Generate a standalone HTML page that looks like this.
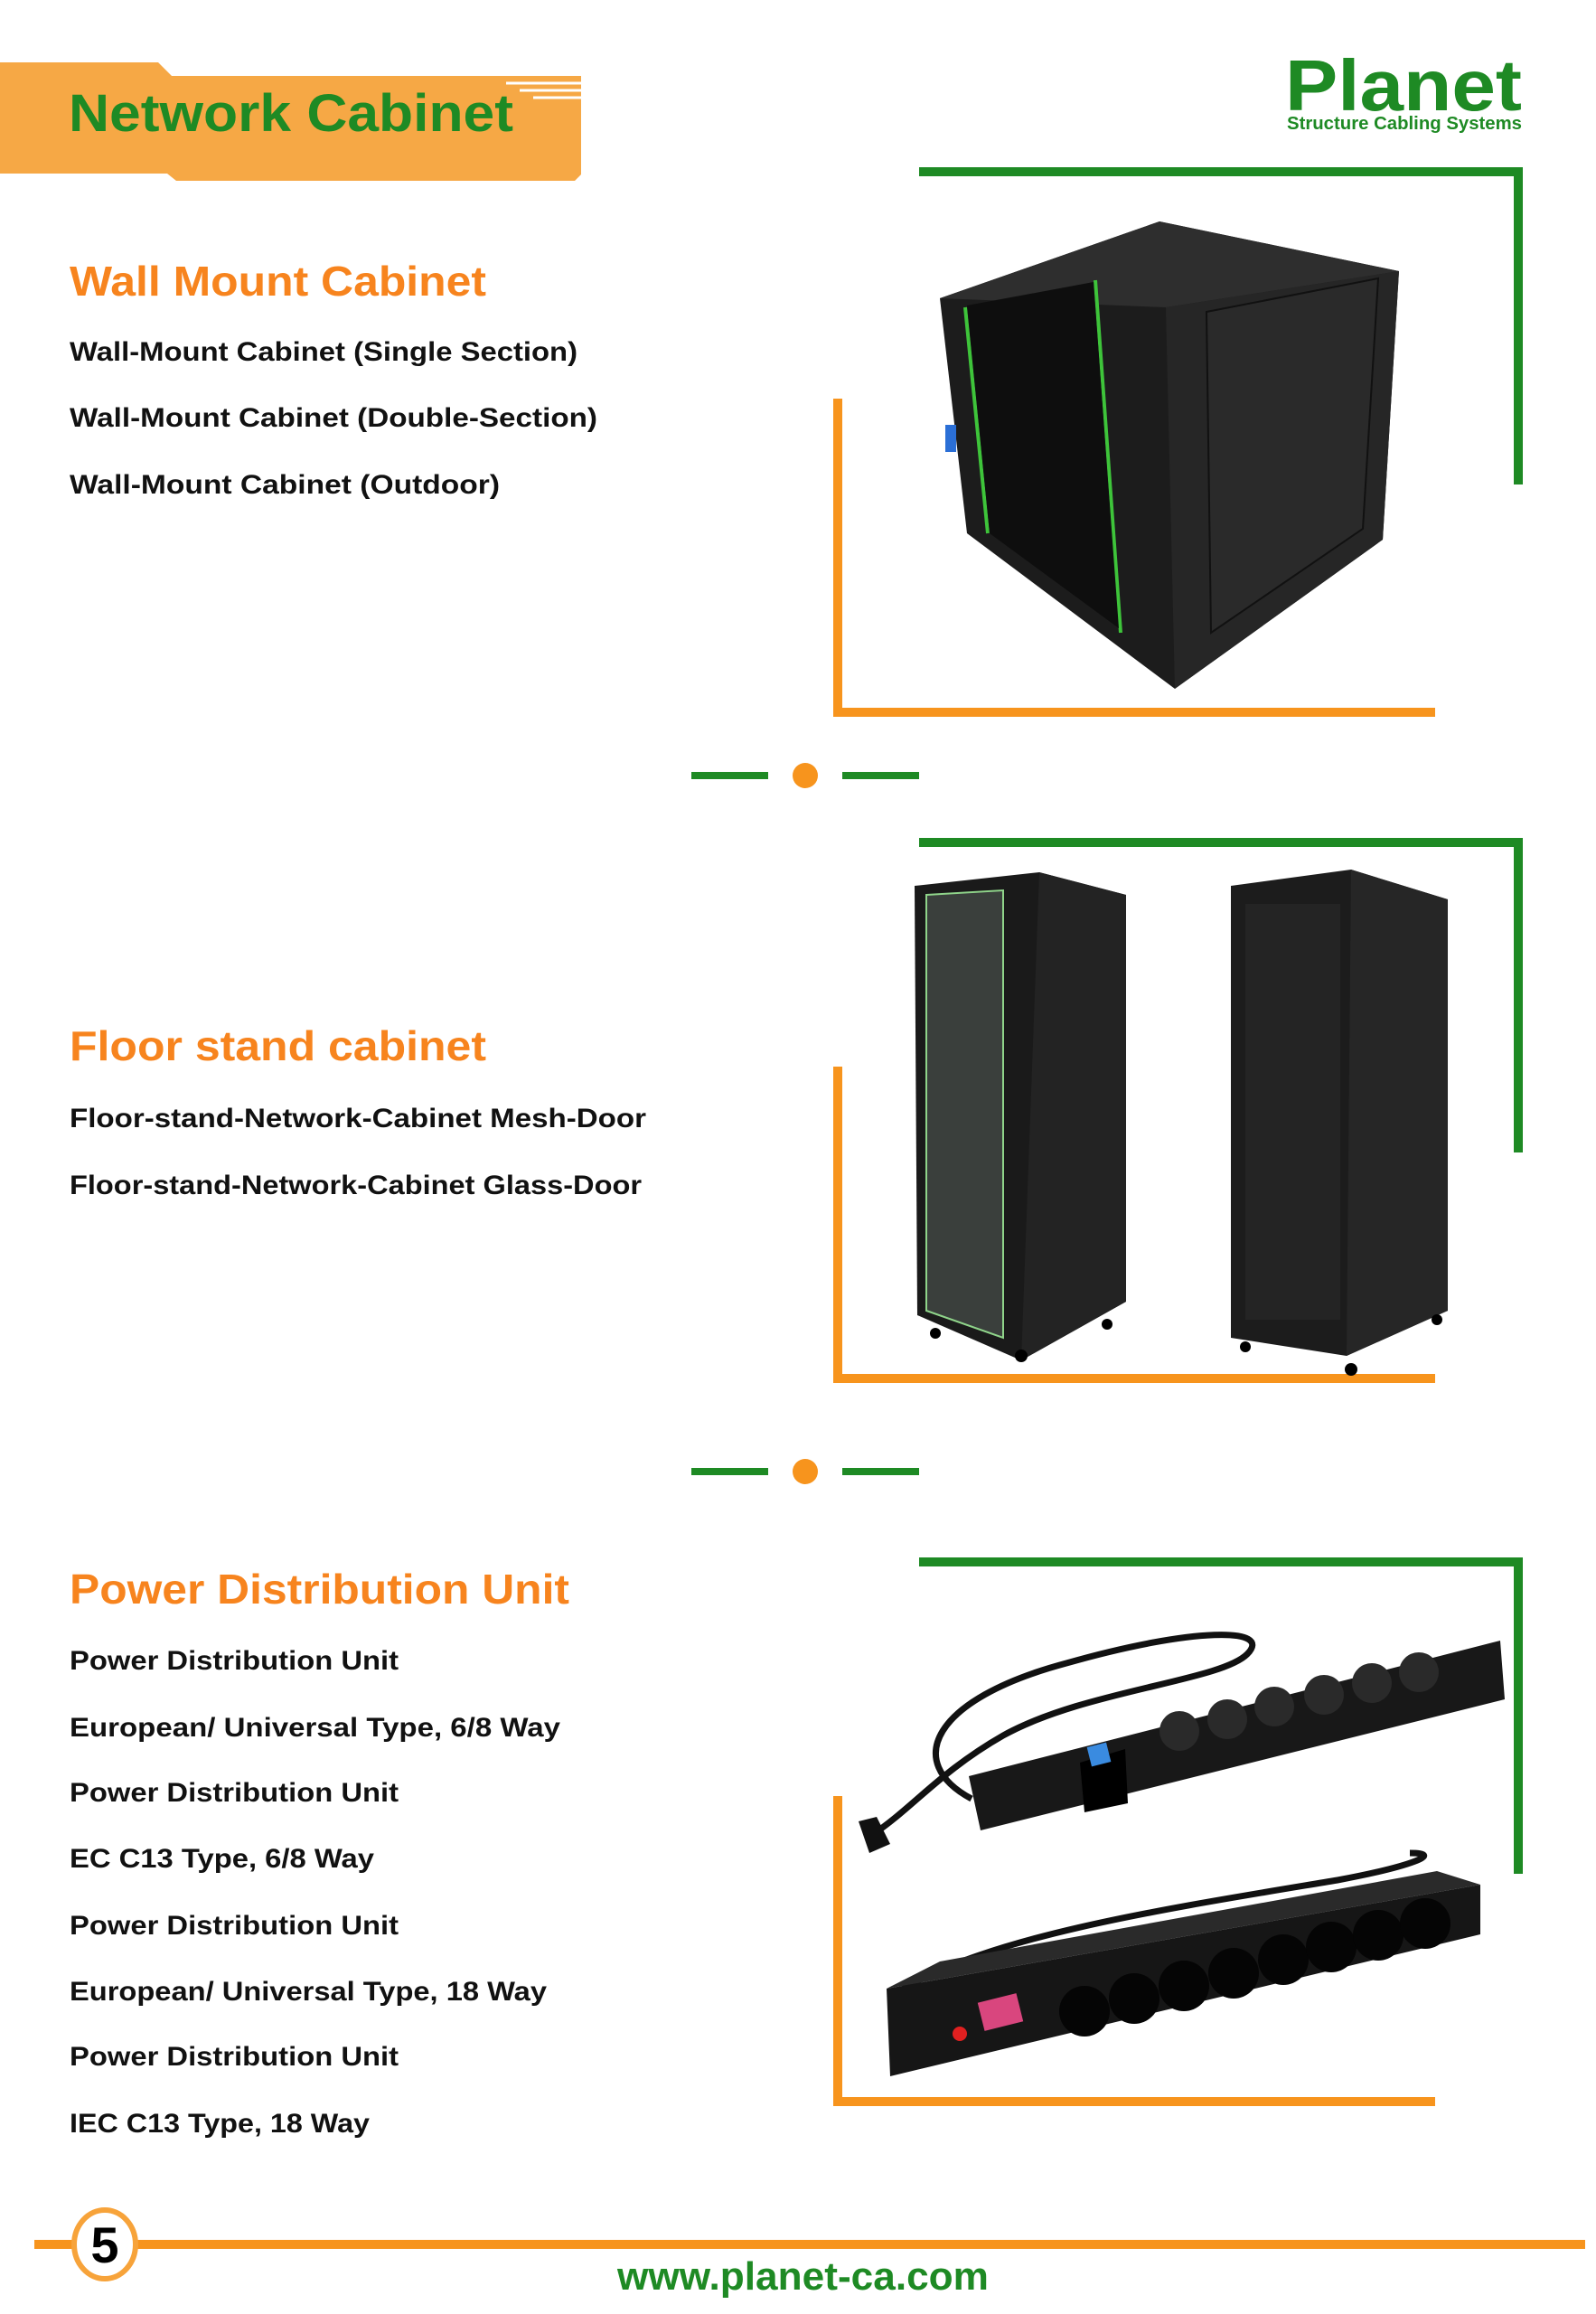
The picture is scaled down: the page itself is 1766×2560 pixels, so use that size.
<!DOCTYPE html>
<html><head><meta charset="utf-8"><style>
html,body{margin:0;padding:0;background:#fff;}
svg{display:block;}
text{font-family:"Liberation Sans",sans-serif;font-weight:bold;}
</style></head><body>
<svg width="1766" height="2560" viewBox="0 0 1766 2560" xmlns="http://www.w3.org/2000/svg">
<rect width="1766" height="2560" fill="#fff"/>
<polygon points="0,69 175,69 190,84 643,84 643,193 636,200 195,200 185,192 0,192" fill="#f6a845"/>
<g stroke="#fff" stroke-width="3">
<line x1="560" y1="92" x2="643" y2="92"/><line x1="575" y1="100" x2="643" y2="100"/><line x1="590" y1="108" x2="643" y2="108"/>
</g>
<text x="76" y="145" font-size="58" fill="#1e8a24" textLength="492" lengthAdjust="spacingAndGlyphs">Network Cabinet</text>
<text x="1422" y="122" font-size="80" fill="#1e8a24" textLength="262" lengthAdjust="spacingAndGlyphs">Planet</text>
<text x="1424" y="143" font-size="20" fill="#1e8a24" textLength="260" lengthAdjust="spacingAndGlyphs">Structure Cabling Systems</text>

<g fill="#1e8a24">
<rect x="1017" y="185" width="668" height="10"/><rect x="1675" y="185" width="10" height="351"/>
<rect x="1017" y="927" width="668" height="10"/><rect x="1675" y="927" width="10" height="348"/>
<rect x="1017" y="1723" width="668" height="10"/><rect x="1675" y="1723" width="10" height="350"/>
</g>
<g fill="#f7941d">
<rect x="922" y="441" width="10" height="352"/><rect x="922" y="783" width="666" height="10"/>
<rect x="922" y="1180" width="10" height="350"/><rect x="922" y="1520" width="666" height="10"/>
<rect x="922" y="1987" width="10" height="343"/><rect x="922" y="2320" width="666" height="10"/>
</g>
<g fill="#1e8a24">
<rect x="765" y="854" width="85" height="8"/><rect x="932" y="854" width="85" height="8"/>
<rect x="765" y="1624" width="85" height="8"/><rect x="932" y="1624" width="85" height="8"/>
</g>
<circle cx="891" cy="858" r="14" fill="#f7941d"/>
<circle cx="891" cy="1628" r="14" fill="#f7941d"/>

<polygon points="1040,330 1283,245 1548,300 1530,597 1300,762 1070,590" fill="#1c1c1c"/>
<polygon points="1040,330 1283,245 1548,300 1290,340" fill="#2e2e2e"/>
<polygon points="1290,340 1548,300 1530,597 1300,762" fill="#262626"/>
<polygon points="1335,345 1525,308 1508,585 1340,700" fill="#2a2a2a" stroke="#111" stroke-width="2"/>
<line x1="1068" y1="340" x2="1093" y2="590" stroke="#3ec43a" stroke-width="4"/>
<line x1="1212" y1="310" x2="1240" y2="700" stroke="#3ec43a" stroke-width="4"/>
<polygon points="1070,338 1210,312 1238,695 1095,590" fill="#0e0e0e"/>
<rect x="1046" y="470" width="12" height="30" fill="#2b6fd6"/>
<polygon points="1012,980 1150,965 1246,990 1246,1440 1130,1505 1015,1455" fill="#1a1a1a"/>
<polygon points="1150,965 1246,990 1246,1440 1130,1505" fill="#232323"/>
<polygon points="1025,990 1110,985 1110,1480 1025,1450" fill="#3a3f3c" stroke="#8fd48a" stroke-width="2"/>
<g fill="#000"><circle cx="1035" cy="1475" r="6"/><circle cx="1130" cy="1500" r="7"/><circle cx="1225" cy="1465" r="6"/></g>
<polygon points="1362,980 1495,962 1602,995 1602,1450 1490,1500 1362,1480" fill="#1c1c1c"/>
<polygon points="1495,962 1602,995 1602,1450 1490,1500" fill="#262626"/>
<rect x="1378" y="1000" width="105" height="460" fill="#242424"/>
<g fill="#000"><circle cx="1378" cy="1490" r="6"/><circle cx="1495" cy="1515" r="7"/><circle cx="1590" cy="1460" r="6"/></g>
<path d="M1075,1990 C1000,1950 1030,1880 1180,1840 C1320,1800 1410,1800 1380,1830 C1350,1860 1200,1870 1110,1920 C1040,1960 1010,2000 965,2030" fill="none" stroke="#111" stroke-width="7"/>
<polygon points="950,2015 970,2010 985,2040 962,2050" fill="#111"/>
<polygon points="1072,1965 1660,1815 1665,1880 1085,2025" fill="#181818"/>
<polygon points="1195,1950 1245,1935 1248,1995 1200,2005" fill="#000"/>
<rect x="1205" y="1930" width="22" height="22" fill="#3a8be0" transform="rotate(-14 1216 1941)"/>
<g fill="#2a2a2a"><circle cx="1305" cy="1915" r="22"/><circle cx="1358" cy="1902" r="22"/><circle cx="1410" cy="1888" r="22"/><circle cx="1465" cy="1875" r="22"/><circle cx="1518" cy="1862" r="22"/><circle cx="1570" cy="1850" r="22"/></g>
<path d="M1000,2200 C1100,2140 1300,2110 1480,2080 C1560,2065 1600,2050 1560,2050" fill="none" stroke="#111" stroke-width="7"/>
<polygon points="981,2200 1040,2170 1590,2070 1638,2085" fill="#2a2a2a"/>
<polygon points="981,2200 1638,2085 1638,2140 985,2297" fill="#161616"/>
<rect x="1085" y="2210" width="44" height="32" fill="#d9467e" transform="rotate(-14 1107 2226)"/>
<circle cx="1062" cy="2250" r="8" fill="#e02020"/>
<g fill="#050505"><circle cx="1200" cy="2225" r="28"/><circle cx="1255" cy="2211" r="28"/><circle cx="1310" cy="2197" r="28"/><circle cx="1365" cy="2183" r="28"/><circle cx="1420" cy="2168" r="28"/><circle cx="1473" cy="2154" r="28"/><circle cx="1525" cy="2141" r="28"/><circle cx="1577" cy="2128" r="28"/></g>

<text x="77" y="327" font-size="46" fill="#f7841e" textLength="461" lengthAdjust="spacingAndGlyphs">Wall Mount Cabinet</text>
<g font-size="30" fill="#111">
<text x="77" y="399" textLength="562" lengthAdjust="spacingAndGlyphs">Wall-Mount Cabinet (Single Section)</text>
<text x="77" y="472" textLength="584" lengthAdjust="spacingAndGlyphs">Wall-Mount Cabinet (Double-Section)</text>
<text x="77" y="546" textLength="476" lengthAdjust="spacingAndGlyphs">Wall-Mount Cabinet (Outdoor)</text>
</g>
<text x="77" y="1173" font-size="46" fill="#f7841e" textLength="461" lengthAdjust="spacingAndGlyphs">Floor stand cabinet</text>
<g font-size="30" fill="#111">
<text x="77" y="1247" textLength="638" lengthAdjust="spacingAndGlyphs">Floor-stand-Network-Cabinet Mesh-Door</text>
<text x="77" y="1321" textLength="633" lengthAdjust="spacingAndGlyphs">Floor-stand-Network-Cabinet Glass-Door</text>
</g>
<text x="77" y="1774" font-size="46" fill="#f7841e" textLength="553" lengthAdjust="spacingAndGlyphs">Power Distribution Unit</text>
<g font-size="30" fill="#111">
<text x="77" y="1847" textLength="364" lengthAdjust="spacingAndGlyphs">Power Distribution Unit</text>
<text x="77" y="1921" textLength="543" lengthAdjust="spacingAndGlyphs">European/ Universal Type, 6/8 Way</text>
<text x="77" y="1993" textLength="364" lengthAdjust="spacingAndGlyphs">Power Distribution Unit</text>
<text x="77" y="2066" textLength="337" lengthAdjust="spacingAndGlyphs">EC C13 Type, 6/8 Way</text>
<text x="77" y="2140" textLength="364" lengthAdjust="spacingAndGlyphs">Power Distribution Unit</text>
<text x="77" y="2213" textLength="528" lengthAdjust="spacingAndGlyphs">European/ Universal Type, 18 Way</text>
<text x="77" y="2285" textLength="364" lengthAdjust="spacingAndGlyphs">Power Distribution Unit</text>
<text x="77" y="2359" textLength="332" lengthAdjust="spacingAndGlyphs">IEC C13 Type, 18 Way</text>
</g>

<rect x="38" y="2478" width="1716" height="10" fill="#f7941d"/>
<ellipse cx="116" cy="2483" rx="34" ry="38" fill="#fff" stroke="#f7a33a" stroke-width="6"/>
<text x="116" y="2503" font-size="56" fill="#000" text-anchor="middle">5</text>
<text x="683" y="2533" font-size="44" fill="#1e8a24" textLength="411" lengthAdjust="spacingAndGlyphs">www.planet-ca.com</text>
</svg>
</body></html>
